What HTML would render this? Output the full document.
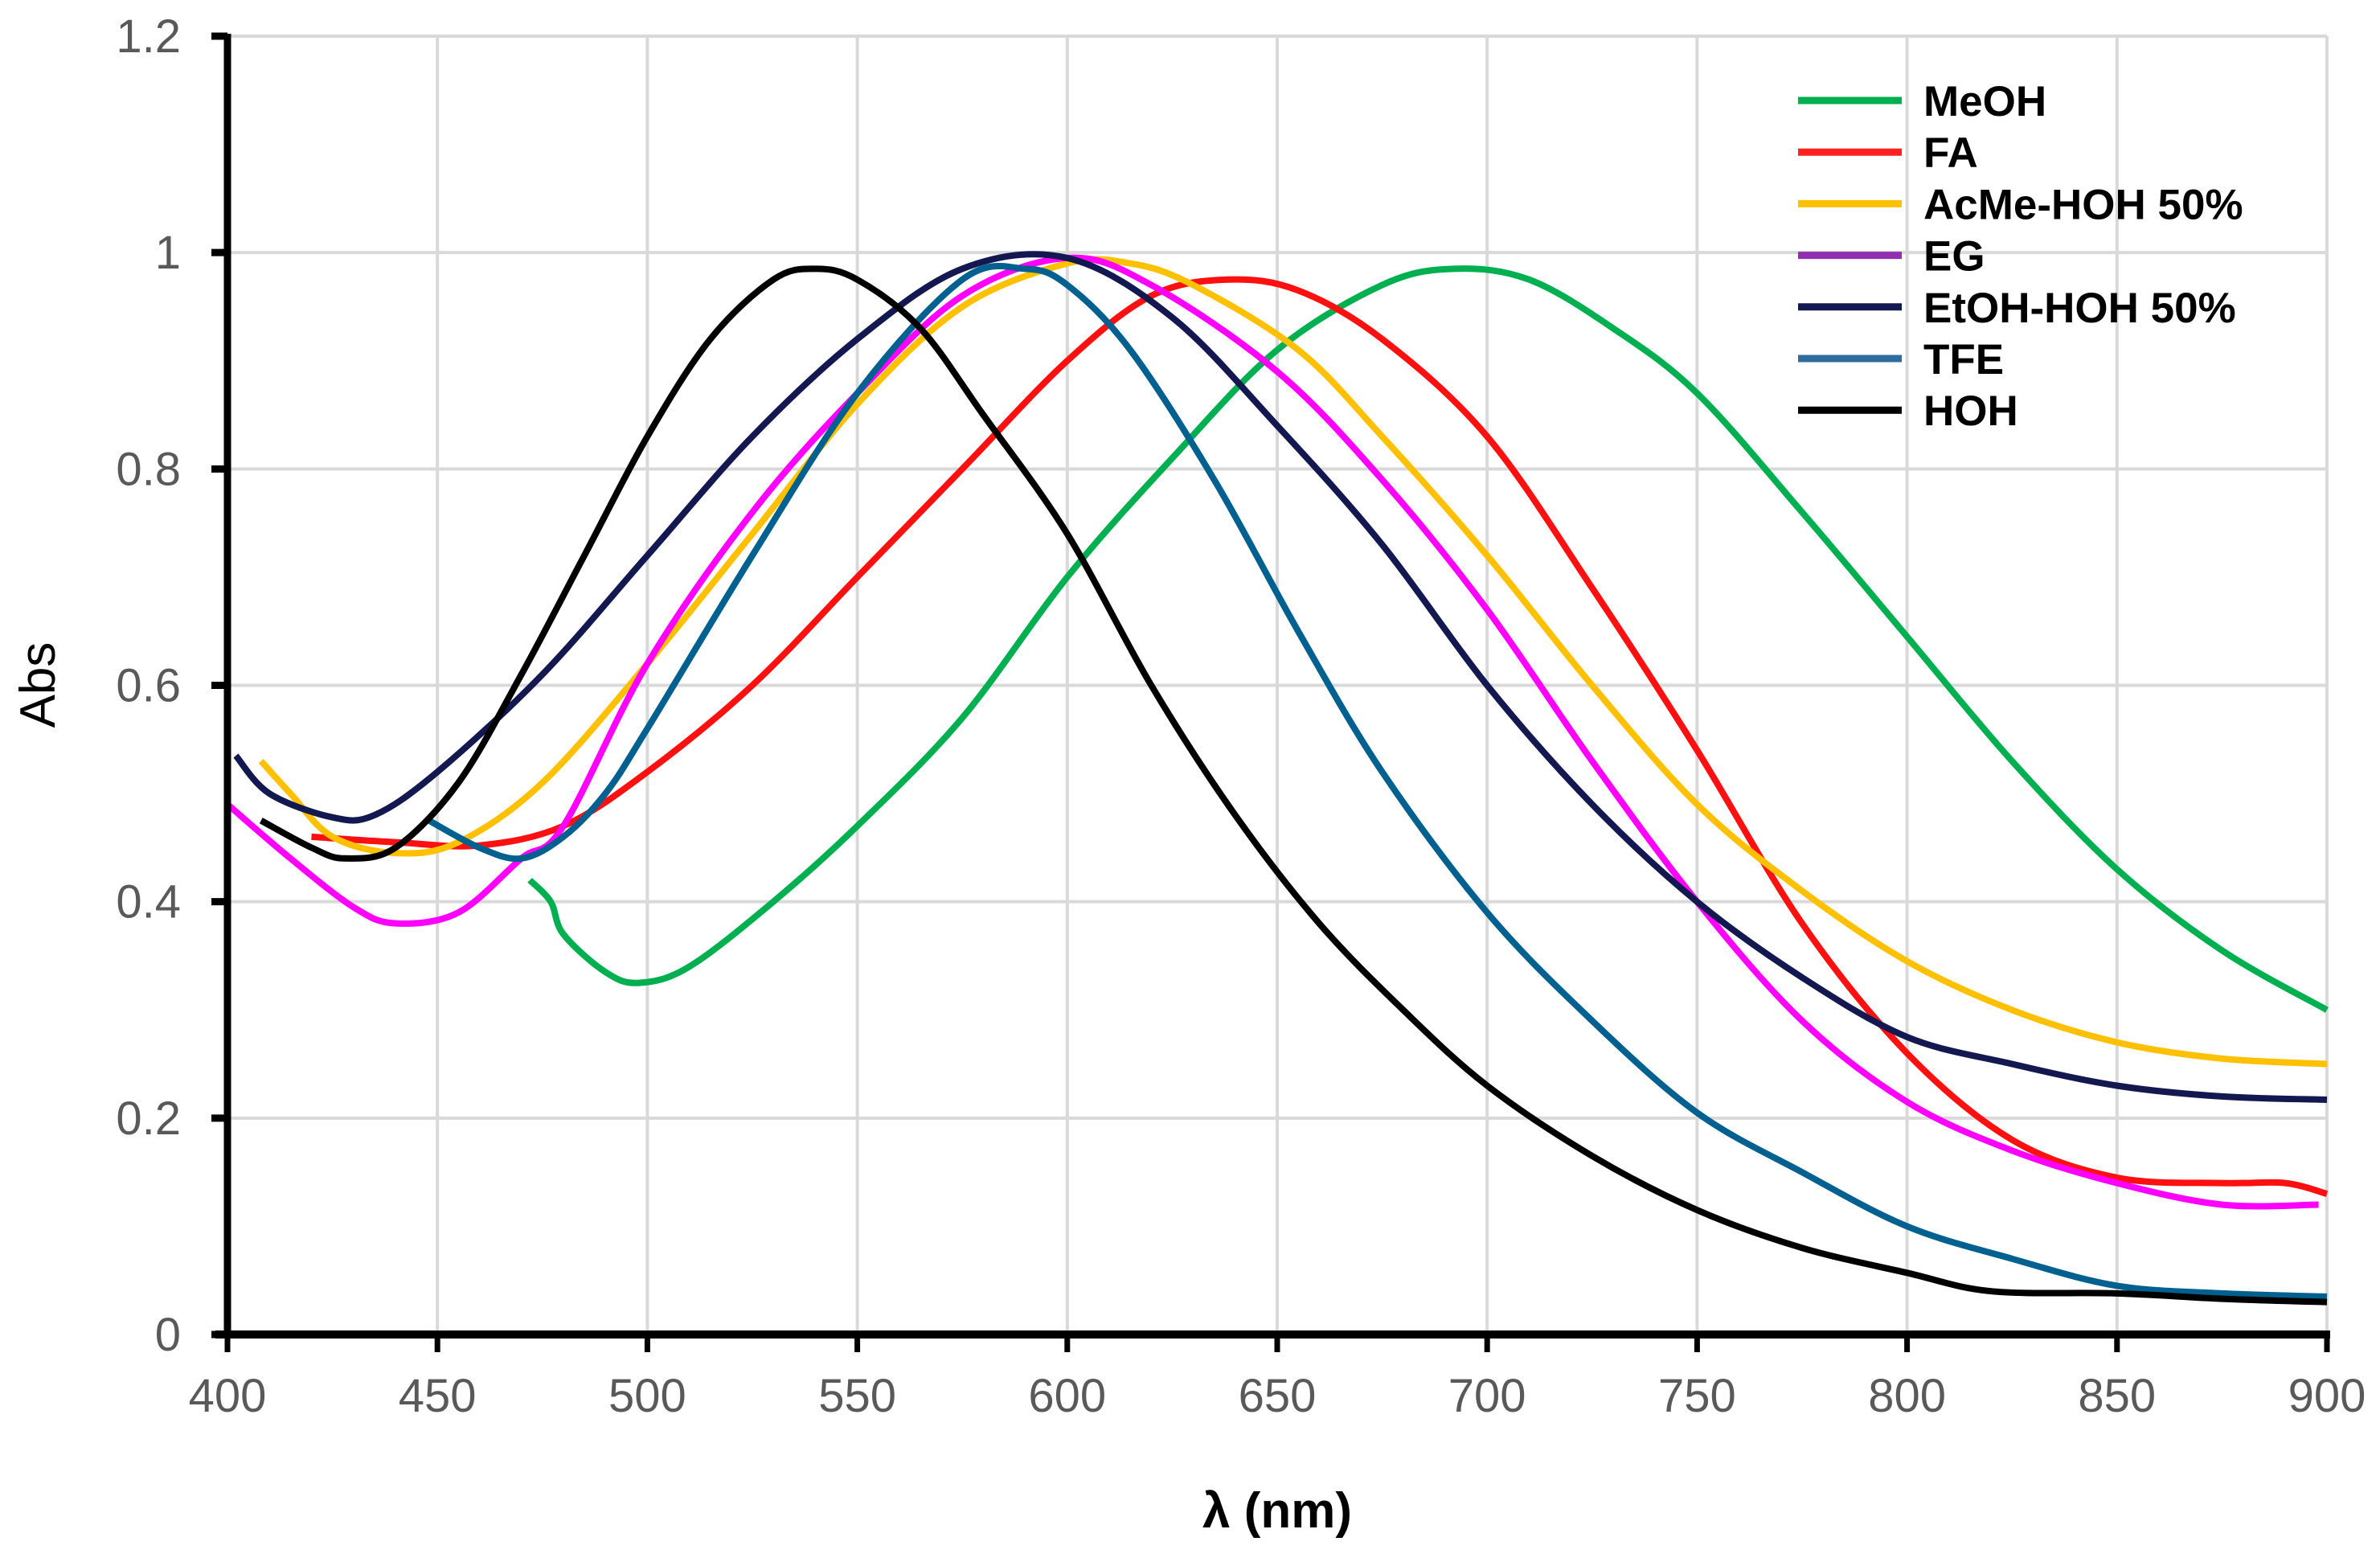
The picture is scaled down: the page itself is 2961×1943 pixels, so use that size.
<!DOCTYPE html>
<html><head><meta charset="utf-8"><style>
html,body{margin:0;padding:0;background:#fff;}
svg{display:block;}
</style></head><body>
<svg id="chart" width="2961" height="1943" viewBox="0 0 2961 1943" xmlns="http://www.w3.org/2000/svg">
<g id="grid"></g>
<g id="series"></g>
<g id="axes"></g>
<text x="68" y="852" transform="rotate(-90 68 852)" text-anchor="middle" font-family="Liberation Sans, sans-serif" font-size="62" fill="#000">Abs</text>
<text x="1589" y="1900" text-anchor="middle" font-family="Liberation Sans, sans-serif" font-weight="bold" font-size="62" fill="#000">λ (nm)</text>
<g id="legend"></g>
</svg>
<script>
const xTicks=[400,450,500,550,600,650,700,750,800,850,900];
const yTicks=[0,0.2,0.4,0.6,0.8,1,1.2];
const yTickLabels=["0","0.2","0.4","0.6","0.8","1","1.2"];
const seriesNames=["MeOH","FA","AcMe-HOH 50%","EG","EtOH-HOH 50%","TFE","HOH"];
const legendColors=["#00b050","#ff2020","#ffc000","#9030b0","#141850","#2e6ca0","#000000"];
const lineColors=["#00b050","#ff1010","#ffc000","#ff00ff","#141850","#00608f","#000000"];
const meohX=[472,477,480,490,498,510,530,550,575,600,625,650,675,692,710,730,750,775,800,825,850,875,900];
const meohY=[0.42,0.40,0.37,0.335,0.325,0.34,0.40,0.47,0.57,0.70,0.81,0.91,0.97,0.985,0.975,0.93,0.87,0.76,0.645,0.53,0.43,0.355,0.30];
const faX=[420,440,460,480,500,525,550,575,600,620,638,655,675,700,725,750,775,800,825,850,875,890,900];
const faY=[0.46,0.455,0.452,0.47,0.52,0.60,0.70,0.80,0.90,0.96,0.975,0.965,0.92,0.83,0.69,0.54,0.38,0.26,0.18,0.145,0.14,0.14,0.13];
const acmeX=[408,415,425,440,455,475,500,525,550,575,600,615,630,655,675,700,725,750,775,800,825,850,875,900];
const acmeY=[0.53,0.50,0.46,0.445,0.455,0.51,0.62,0.74,0.86,0.95,0.99,0.99,0.97,0.91,0.83,0.72,0.60,0.49,0.41,0.345,0.30,0.27,0.255,0.25];
const egX=[400,415,430,440,455,470,480,500,525,550,575,600,620,650,675,700,725,750,775,800,825,850,875,898];
const egY=[0.49,0.44,0.395,0.38,0.39,0.44,0.47,0.62,0.76,0.87,0.96,0.995,0.97,0.89,0.79,0.67,0.53,0.40,0.29,0.215,0.17,0.14,0.12,0.12];
const etohX=[402,410,425,435,450,475,500,525,550,575,600,625,650,675,700,725,750,775,800,825,850,875,900];
const etohY=[0.535,0.50,0.478,0.48,0.52,0.61,0.72,0.83,0.92,0.985,0.995,0.94,0.84,0.73,0.60,0.49,0.40,0.33,0.275,0.25,0.23,0.22,0.217];
const tfeX=[448,460,470,480,490,500,525,550,575,590,600,615,635,655,675,700,725,750,775,800,825,850,875,900];
const tfeY=[0.475,0.45,0.44,0.46,0.50,0.56,0.72,0.87,0.975,0.985,0.97,0.91,0.79,0.65,0.52,0.39,0.29,0.205,0.15,0.10,0.07,0.045,0.038,0.035];
const hohX=[408,420,428,440,455,470,485,500,515,530,540,550,565,580,600,620,640,660,680,700,725,750,775,800,820,850,875,900];
const hohY=[0.475,0.45,0.44,0.45,0.51,0.61,0.72,0.83,0.92,0.975,0.985,0.975,0.93,0.85,0.74,0.60,0.48,0.38,0.30,0.23,0.165,0.115,0.08,0.057,0.04,0.038,0.033,0.03];

const NS="http://www.w3.org/2000/svg";
const X0=283,X1=2895,Y0=1660,Y1=45;
function sx(v){return X0+(v-400)/(500)*(X1-X0);}
function sy(v){return Y0-(v/1.2)*(Y0-Y1);}
function mk(tag,attrs,parent){const e=document.createElementNS(NS,tag);for(const k in attrs)e.setAttribute(k,attrs[k]);parent.appendChild(e);return e;}
const grid=document.getElementById('grid'),axes=document.getElementById('axes'),ser=document.getElementById('series'),leg=document.getElementById('legend');
xTicks.forEach(t=>{if(t===400)return;
 const l=mk('line',{x1:sx(t),x2:sx(t),y1:Y1,y2:Y0,stroke:'#d9d9d9','stroke-width':4},grid);
 
 });
yTicks.forEach(t=>{if(t===0)return;
 const l=mk('line',{x1:X0,x2:X1,y1:sy(t),y2:sy(t),stroke:'#d9d9d9','stroke-width':4},grid);
 
 });
let a=mk('line',{x1:X0,x2:X0,y1:Y1-3,y2:Y0+5,stroke:'#000','stroke-width':9},axes);


a=mk('line',{x1:X0-15,x2:X1+4,y1:Y0,y2:Y0,stroke:'#000','stroke-width':10},axes);


yTicks.forEach((t,i)=>{
 const tk=mk('line',{x1:X0-20,x2:X0,y1:sy(t),y2:sy(t),stroke:'#000','stroke-width':9},axes);
 
 
 const tx=mk('text',{x:X0-58,y:sy(t)+20,'text-anchor':'end','font-family':'Liberation Sans, sans-serif','font-size':58,fill:'#595959'},axes);
 tx.textContent=yTickLabels[i];
 
 });
xTicks.forEach(t=>{
 const tk=mk('line',{x1:sx(t),x2:sx(t),y1:Y0,y2:Y0+22,stroke:'#000','stroke-width':7},axes);
 
 
 const tx=mk('text',{x:sx(t),y:Y0+96,'text-anchor':'middle','font-family':'Liberation Sans, sans-serif','font-size':58,fill:'#595959'},axes);
 tx.textContent=String(t);
 
 });
function smoothPath(xs,ys){
 const p=xs.map((x,i)=>[sx(x),sy(ys[i])]);
 let d='M'+p[0][0].toFixed(1)+','+p[0][1].toFixed(1);
 for(let i=0;i<p.length-1;i++){
  const p0=p[i-1]||p[i],p1=p[i],p2=p[i+1],p3=p[i+2]||p2;
  const c1=[p1[0]+(p2[0]-p0[0])/6,p1[1]+(p2[1]-p0[1])/6];
  const c2=[p2[0]-(p3[0]-p1[0])/6,p2[1]-(p3[1]-p1[1])/6];
  d+=' C'+c1[0].toFixed(1)+','+c1[1].toFixed(1)+' '+c2[0].toFixed(1)+','+c2[1].toFixed(1)+' '+p2[0].toFixed(1)+','+p2[1].toFixed(1);
 }
 return d;}
const allX=[meohX,faX,acmeX,egX,etohX,tfeX,hohX];
const allY=[meohY,faY,acmeY,egY,etohY,tfeY,hohY];
const slugs=['meoh','fa','acme-hoh','eg','etoh-hoh','tfe','hoh'];
allX.forEach((xs,i)=>{
 const pth=mk('path',{d:smoothPath(xs,allY[i]),fill:'none',stroke:lineColors[i],'stroke-width':8,'stroke-linejoin':'round'},ser);
 
 });
seriesNames.forEach((n,i)=>{
 const yy=125+i*64.2;
 const l=mk('line',{x1:2237,x2:2366,y1:yy,y2:yy,stroke:legendColors[i],'stroke-width':9},leg);
 
 
 const t=mk('text',{x:2393,y:yy+19,'font-family':'Liberation Sans, sans-serif','font-weight':'bold','font-size':53,fill:'#000'},leg);
 t.textContent=n;
 
 });
</script>
</body></html>
